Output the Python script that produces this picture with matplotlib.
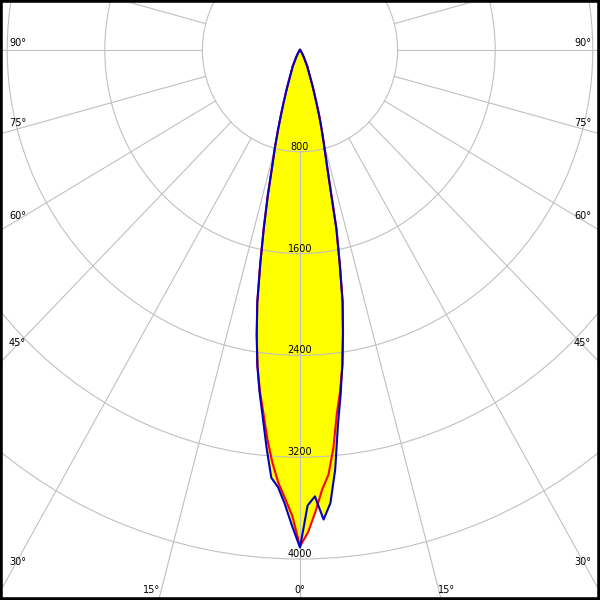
import numpy as np
import matplotlib
matplotlib.use('Agg')
import matplotlib.pyplot as plt
from matplotlib.patches import Rectangle

# angles in degrees (0 = straight down, positive = right side)
angulos = [-90, -50, -40, -35, -30, -25, -22, -20, -19, -18, -17, -16, -15, -14,
           -13, -12, -11, -10, -9, -8, -7, -6, -5, -4, -3, -2, -1, 0,
           1, 2, 3, 4, 5, 6, 7, 8, 9, 10, 11, 12, 13, 14, 15, 16, 17, 18,
           19, 20, 22, 25, 30, 35, 40, 50, 90]

# intensidad (cd) plano C0-C180 (azul)
plano_azul = [0, 0, 10, 25, 55, 140, 205, 295, 358, 436, 535, 655, 795, 940,
              1170, 1420, 1700, 2015, 2270, 2510, 2715, 2910, 3140, 3370, 3440, 3570, 3740, 3910,
              3580, 3510, 3695, 3570, 3310, 2970, 2730, 2495, 2250, 2010, 1700, 1430, 1080, 880, 745, 635, 535, 436,
              358, 300, 205, 140, 55, 25, 10, 0, 0]

# intensidad (cd) plano C90-C270 (rojo)
plano_rojo = [0, 0, 10, 25, 55, 140, 205, 295, 358, 436, 535, 655, 795, 945,
              1180, 1430, 1710, 2020, 2265, 2505, 2700, 2870, 3070, 3250, 3404, 3525, 3660, 3900,
              3790, 3630, 3460, 3345, 3140, 2880, 2700, 2500, 2255, 2015, 1710, 1440, 1090, 885, 750, 640, 535, 436,
              358, 300, 205, 140, 55, 25, 10, 0, 0]

anillos = [800, 1600, 2400, 3200, 4000]
etiquetas_izq = ["90°", "75°", "60°", "45°", "30°"]
etiquetas_izq_y = [46, 126, 219, 346, 565]   # baseline, px from top
etiquetas_abajo = ["15°", "0°", "15°"]

# escala del dibujo (px por cd) y centro en px
sx = 97.6 / 800
sy = 101.8 / 800
cx, cy = 300, 50
R = 5200

fig = plt.figure(figsize=(6, 6), dpi=100)
w = 2 * R * sx / 600
h = 2 * R * sy / 600
ax = fig.add_axes([cx / 600 - w / 2, (600 - cy) / 600 - h / 2, w, h], projection='polar')
ax.set_aspect('auto')
ax.set_theta_zero_location('S')
ax.set_rlim(0, R)

gris = '#c0c0c0'
ax.set_rgrids(anillos, labels=[''] * len(anillos))
ax.yaxis.grid(True, color=gris, linewidth=0.8)
ax.set_xticks([])
ax.xaxis.grid(False)
ax.spines['polar'].set_visible(False)

for t in range(0, 360, 15):
    tr = np.radians(t)
    ax.plot([tr, tr], [800, R], color=gris, linewidth=0.8, zorder=2.5)

th = np.radians(angulos)
ax.fill(th, plano_azul, color='#ffff00', zorder=1)
ax.fill(th, plano_rojo, color='#ffff00', zorder=1)
ax.plot(th, plano_rojo, color='#ff0000', linewidth=1.5, zorder=3)
ax.plot(th, plano_azul, color='#0000cc', linewidth=1.5, zorder=4)

for r in anillos:
    ax.text(0, r, str(r), ha='center', va='bottom', fontsize=7, zorder=5)

for txt, y in zip(etiquetas_izq, etiquetas_izq_y):
    fig.text(9 / 600, 1 - y / 600, txt, ha='left', va='baseline', fontsize=7)
    fig.text(591 / 600, 1 - y / 600, txt, ha='right', va='baseline', fontsize=7)

fig.text(160 / 600, 1 - 593 / 600, etiquetas_abajo[0], ha='right', va='baseline', fontsize=7)
fig.text(300 / 600, 1 - 593 / 600, etiquetas_abajo[1], ha='center', va='baseline', fontsize=7)
fig.text(438 / 600, 1 - 593 / 600, etiquetas_abajo[2], ha='left', va='baseline', fontsize=7)

fig.add_artist(Rectangle((0, 0), 1, 1, transform=fig.transFigure, fill=False,
                         edgecolor='black', linewidth=4))

fig.savefig('out.png', dpi=100)
